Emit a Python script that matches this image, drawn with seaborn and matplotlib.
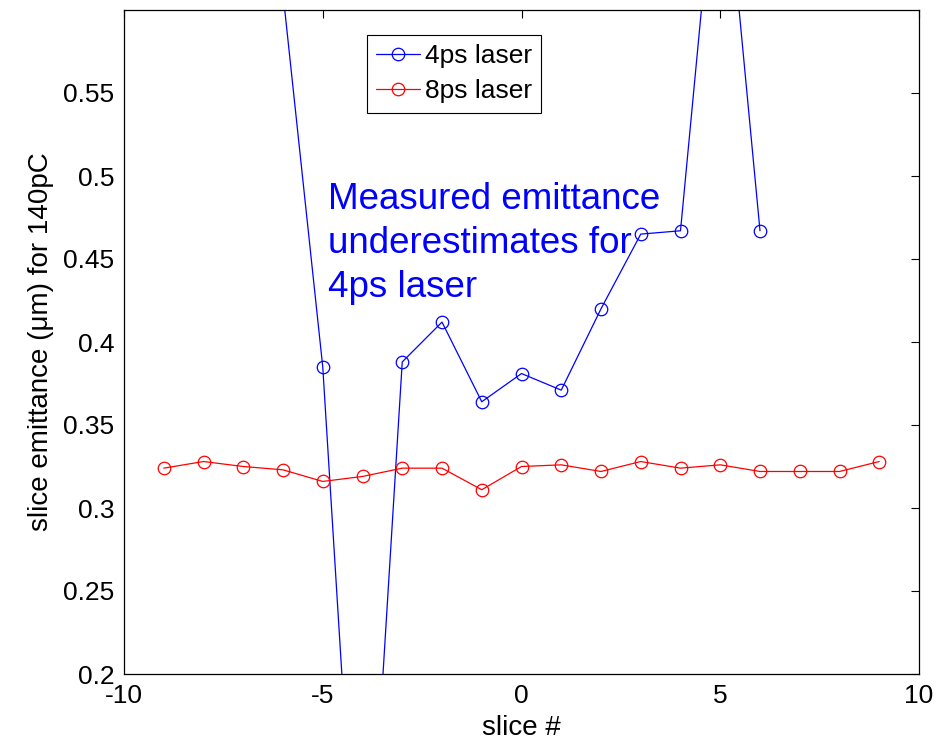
import matplotlib
matplotlib.use("Agg")
import matplotlib.pyplot as plt
import seaborn as sns
import pandas as pd

# ---- data ----
slices_4ps = [-6, -5, -4, -3, -2, -1, 0, 1, 2, 3, 4, 5, 6]
emit_4ps = [0.61, 0.385, 0.0, 0.388, 0.412, 0.364, 0.381, 0.371, 0.420, 0.465, 0.467, 0.72, 0.467]

slices_8ps = [-9, -8, -7, -6, -5, -4, -3, -2, -1, 0, 1, 2, 3, 4, 5, 6, 7, 8, 9]
emit_8ps = [0.324, 0.328, 0.325, 0.323, 0.316, 0.319, 0.324, 0.324, 0.311, 0.325,
            0.326, 0.322, 0.328, 0.324, 0.326, 0.322, 0.322, 0.322, 0.328]

series_labels = ["4ps laser", "8ps laser"]
series_colors = ["#0000ff", "#ff0000"]
x_ticks = [-10, -5, 0, 5, 10]
y_ticks = [0.2, 0.25, 0.3, 0.35, 0.4, 0.45, 0.5, 0.55]
x_label = "slice #"
y_label = "slice emittance (\u03bcm) for 140pC"
note = "Measured emittance\nunderestimates for\n4ps laser"

sns.set_style("white")
plt.rcParams["font.family"] = ["Liberation Sans", "DejaVu Sans"]
plt.rcParams["text.color"] = "black"
plt.rcParams["axes.labelcolor"] = "black"
plt.rcParams["xtick.color"] = "black"
plt.rcParams["ytick.color"] = "black"

fig = plt.figure(figsize=(9.48, 7.41), dpi=100)
ax = fig.add_axes([124 / 948, 1 - 674 / 741, (919 - 124) / 948, (674 - 10) / 741])

df4 = pd.DataFrame({"slice": slices_4ps, "emit": emit_4ps})
df8 = pd.DataFrame({"slice": slices_8ps, "emit": emit_8ps})

for df, lab, col in [(df4, series_labels[0], series_colors[0]),
                     (df8, series_labels[1], series_colors[1])]:
    sns.lineplot(data=df, x="slice", y="emit", ax=ax, color=col, label=lab,
                 marker="o", markersize=9, markerfacecolor="none",
                 markeredgecolor=col, markeredgewidth=0.9, linewidth=0.9,
                 sort=False, errorbar=None)

ax.set_xlim(-10, 10)
ax.set_ylim(0.2, 0.6)
ax.set_xticks(x_ticks)
ax.set_xticklabels([str(v) for v in x_ticks])
ax.set_yticks(y_ticks)
ax.set_yticklabels([f"{v:g}" for v in y_ticks])
ax.tick_params(direction="in", length=6, width=0.8, top=True, right=True,
               labelsize=19, pad=7, colors="black", labelcolor="black")
for s in ax.spines.values():
    s.set_color("black")
    s.set_linewidth(0.9)

ax.set_xlabel(x_label, fontsize=20, color="black")
ax.set_ylabel(y_label, fontsize=20, color="black")
ax.xaxis.set_label_coords(0.5, -0.061)
ax.yaxis.set_label_coords(-0.088, 0.5)

ax.text(-4.87, 0.427, note, color="#0000ff", fontsize=26.5,
        ha="left", va="baseline", linespacing=1.33)

leg = ax.legend(loc="upper left", bbox_to_anchor=((367 - 124) / 795, (674 - 35) / 664),
                fontsize=19, frameon=True, fancybox=False, framealpha=1,
                edgecolor="black", borderaxespad=0, handlelength=1.65,
                handletextpad=0.2, borderpad=0.35, labelspacing=0.42)
leg.get_frame().set_linewidth(0.8)
for t in leg.get_texts():
    t.set_color("black")

fig.savefig("out.png", dpi=100)
